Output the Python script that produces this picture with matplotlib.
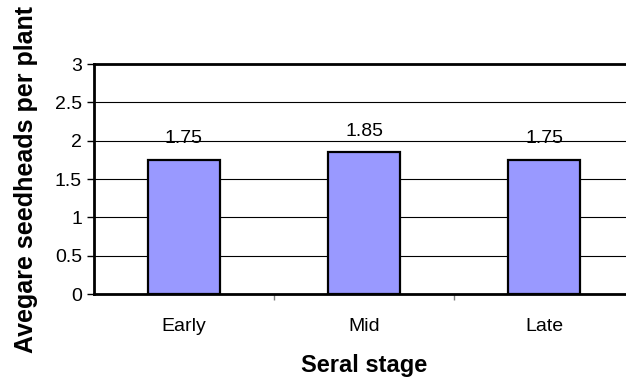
import matplotlib.pyplot as plt
import numpy as np

stages = ['Early', 'Mid', 'Late']
seedheads = [1.75, 1.85, 1.75]

plt.rcParams['font.family'] = ['Liberation Sans', 'DejaVu Sans']

fig = plt.figure(figsize=(6.26, 3.79), dpi=100)
ax = fig.add_axes([0.150, 0.224, 0.863, 0.607])

ind = np.arange(len(stages))
bars = ax.bar(ind, seedheads, 0.4, color='#9999ff', edgecolor='black', linewidth=1.6, zorder=3)

for b, v in zip(bars, seedheads):
    ax.annotate('%g' % v, (b.get_x() + b.get_width() / 2, v), xytext=(0, 12),
                textcoords='offset points', ha='center', va='baseline', fontsize=14)

ax.set_xlim(-0.5, len(stages) - 0.5)
ax.set_ylim(0, 3)
ax.set_yticks(np.arange(0, 3.01, 0.5))
ax.set_yticklabels(['0', '0.5', '1', '1.5', '2', '2.5', '3'])
ax.yaxis.grid(True, color='black', linewidth=0.8, zorder=0)

ax.set_xticks(ind)
ax.set_xticklabels(stages)
ax.set_xticks(np.arange(0.5, len(stages) - 1), minor=True)
ax.tick_params(axis='x', which='major', length=0, pad=17, labelsize=14)
ax.tick_params(axis='x', which='minor', length=4, color='#808080', width=1)
ax.tick_params(axis='y', length=5, width=1, pad=3.5, labelsize=14)

for s in ax.spines.values():
    s.set_linewidth(2)

ax.set_xlabel('Seral stage', fontsize=17, fontweight='bold', labelpad=14)
ax.set_ylabel('Avegare seedheads per plant', fontsize=18, fontweight='bold', labelpad=12)

fig.savefig('out.png', dpi=100)
